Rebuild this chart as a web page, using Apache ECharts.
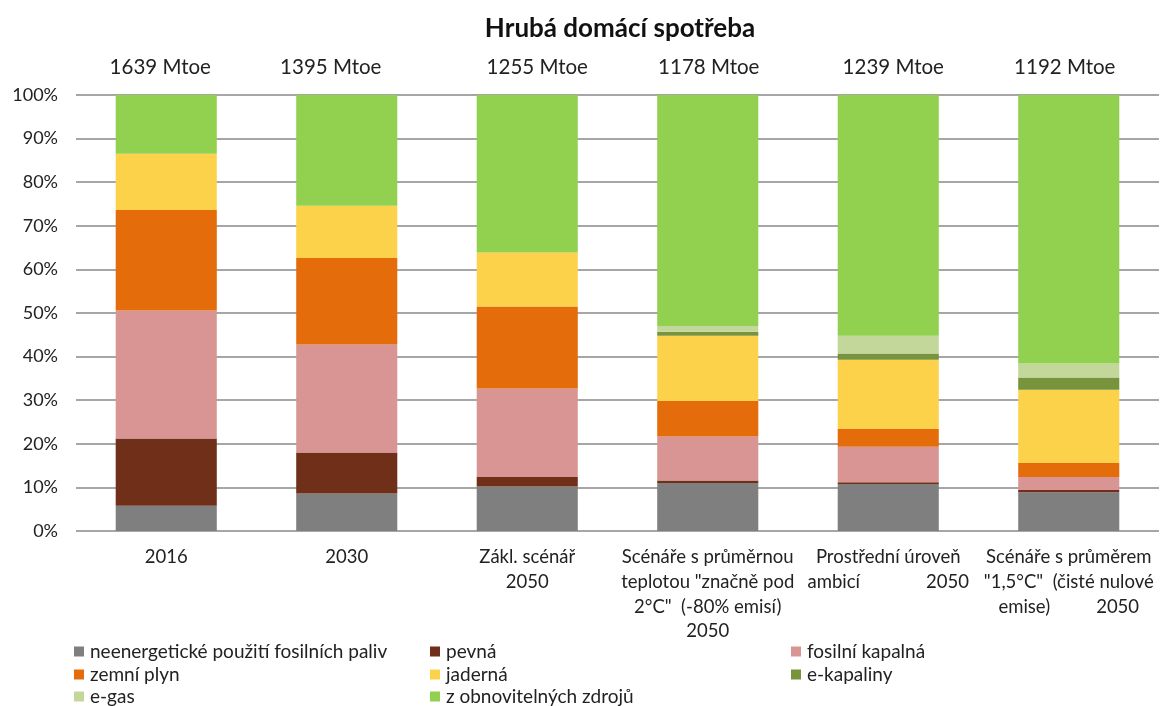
<!DOCTYPE html>
<html>
<head>
<meta charset="utf-8">
<script src="https://cdn.jsdelivr.net/npm/echarts@6/dist/echarts.min.js"></script>
<style>
html,body{margin:0;padding:0;background:#fff;}
#chart{width:1161px;height:706px;}
</style>
</head>
<body>
<div id="chart"></div>
<script>
const title = 'Hrubá domácí spotřeba';
// '\t' marks where the original label spreads the words apart
const categories = [
  '2016',
  '2030',
  'Zákl. scénář\n2050',
  'Scénáře s průměrnou\nteplotou "značně pod\n2°C"  (-80% emisí)\n2050',
  'Prostřední úroveň\nambicí\t2050',
  'Scénáře s průměrem\n"1,5°C"  (čisté nulové\nemise)\t2050'
];
const totals = ['1639 Mtoe', '1395 Mtoe', '1255 Mtoe', '1178 Mtoe', '1239 Mtoe', '1192 Mtoe'];
const yTicks = [0, 10, 20, 30, 40, 50, 60, 70, 80, 90, 100];

const nonEnergy  = [5.8, 8.6, 10.2, 11.0, 10.8, 8.9];
const solid      = [15.4, 9.4, 2.2, 0.6, 0.4, 0.5];
const oil        = [29.4, 24.8, 20.3, 10.1, 8.1, 3.0];
const gas        = [23.0, 19.8, 18.8, 8.1, 4.1, 3.2];
const nuclear    = [12.9, 12.0, 12.4, 15.0, 15.9, 16.8];
const eLiquids   = [0, 0, 0, 0.9, 1.4, 2.8];
const eGas       = [0, 0, 0, 1.3, 4.1, 3.2];
const renewables = [13.5, 25.4, 36.1, 53.0, 55.2, 61.6];

const seriesNames = [
  'neenergetické použití fosilních paliv', 'pevná', 'fosilní kapalná',
  'zemní plyn', 'jaderná', 'e-kapaliny', 'e-gas', 'z obnovitelných zdrojů'
];
const seriesData = [nonEnergy, solid, oil, gas, nuclear, eLiquids, eGas, renewables];
const colors = ['#7f7f7f', '#6f2f19', '#d99594', '#e46c0a', '#fdd24b', '#77933c', '#c4d79b', '#92d050'];

// horizontal nudges of the total labels (px, + = right), as placed in the original
const totalShift = [-6, -16, 10, 1, 5, -4];
// width of the spread-apart gap inside the category labels (px)
const catGap = [0, 0, 0, 0, 66, 46];

const FONT = 'Lato, "Open Sans", sans-serif';
const chart = echarts.init(document.getElementById('chart'));

// legend grid: 3 columns x 3 rows, filled row by row
const legendCols = [74, 430, 791];
const legendRows = [642, 665, 687];
const legends = seriesNames.map((name, i) => ({
  left: legendCols[i % 3], top: legendRows[Math.floor(i / 3)],
  orient: 'horizontal', itemWidth: 10, itemHeight: 10, icon: 'rect', itemGap: 0,
  padding: 0,
  textStyle: { fontFamily: FONT, fontSize: 19, color: '#222', padding: [0, 0, 0, 1] },
  selectedMode: false, data: [name]
}));

const totalRich = {};
totalShift.forEach((s, i) => {
  totalRich['t' + i] = {
    fontFamily: FONT, fontSize: 20.5, color: '#222',
    padding: s >= 0 ? [0, 0, 0, 2 * s] : [0, -2 * s, 0, 0]
  };
});

const catStyle = { fontFamily: FONT, fontSize: 18.5, color: '#222', lineHeight: 24.7 };
const catRich = { c: catStyle };
catGap.forEach((g, i) => { catRich['r' + i] = Object.assign({}, catStyle, { padding: [0, 0, 0, g] }); });

chart.setOption({
  animation: false,
  color: colors,
  title: {
    text: title, left: 615, textAlign: 'center', top: 11,
    textStyle: { fontFamily: FONT, fontSize: 26, fontWeight: 'bold', color: '#111' }
  },
  legend: legends,
  grid: { left: 76, right: 2, top: 95, bottom: 175, containLabel: false, outerBoundsMode: 'none' },
  xAxis: [
    {
      type: 'category', data: categories, position: 'bottom',
      axisLine: { show: false }, axisTick: { show: false },
      axisLabel: {
        interval: 0, margin: 14, overflow: 'none', hideOverlap: false,
        fontFamily: FONT, fontSize: 18.5, color: '#222', lineHeight: 24.7,
        rich: catRich,
        formatter: (v, i) => v.split('\n').map(line => line.split('\t').map((p, k) => (k ? '{r' + i + '|' : '{c|') + p + '}').join('')).join('\n')
      }
    },
    {
      type: 'category', data: totals, position: 'top',
      axisLine: { show: false }, axisTick: { show: false },
      axisLabel: {
        interval: 0, margin: 17, rich: totalRich, overflow: 'none',
        formatter: (v, i) => '{t' + i + '|' + v + '}'
      }
    }
  ],
  yAxis: {
    type: 'value', min: 0, max: 100, interval: 10,
    axisLine: { show: false }, axisTick: { show: false },
    axisLabel: {
      fontFamily: FONT, fontSize: 18, color: '#222', margin: 18,
      formatter: v => (yTicks.indexOf(v) >= 0 ? v + '%' : '')
    },
    splitLine: { lineStyle: { color: '#a6a6a6', width: 2 } }
  },
  series: seriesNames.map((name, i) => ({
    name: name, type: 'bar', stack: 'total', data: seriesData[i],
    barCategoryGap: '44%', xAxisIndex: 0,
    itemStyle: { color: colors[i] }
  }))
});
</script>
</body>
</html>
